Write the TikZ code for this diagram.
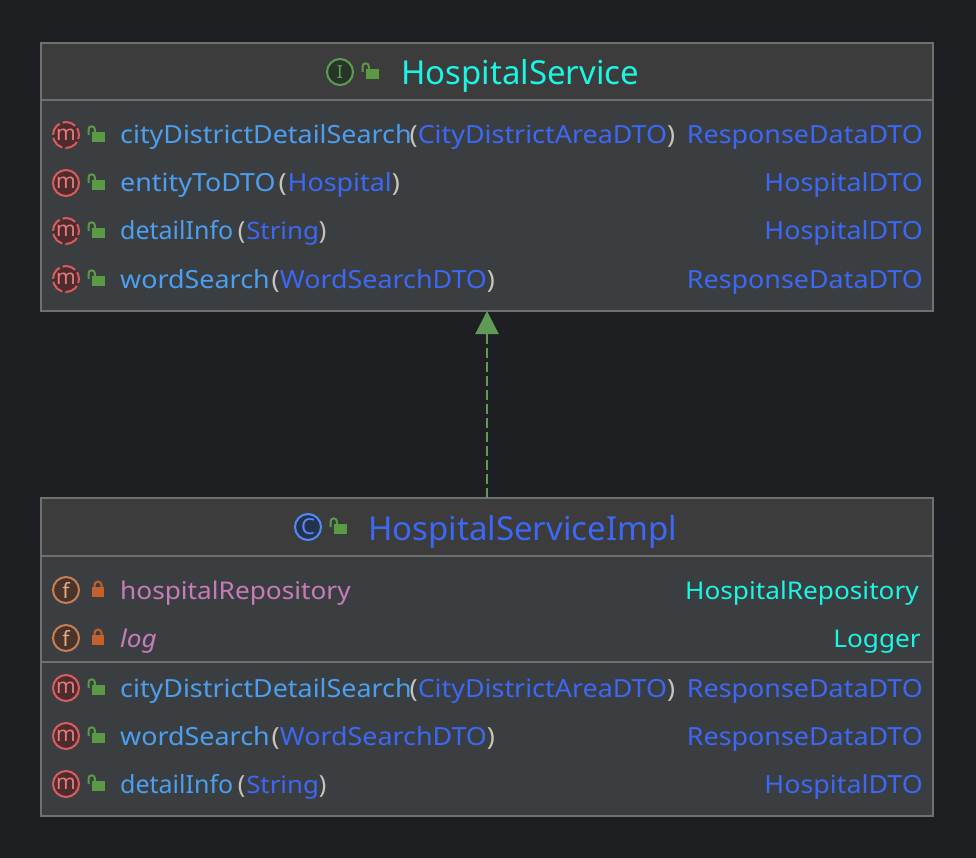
\documentclass[tikz,border=0pt]{standalone}
\usepackage{fontspec}
\setmainfont{Noto Sans}
\newfontfamily\rowfont[FakeStretch=1.075]{Noto Sans}
\usetikzlibrary{arrows.meta}
\definecolor{pagebg}{HTML}{1E1F22}
\definecolor{headbg}{HTML}{3C3C3C}
\definecolor{bodybg}{HTML}{3B3E41}
\definecolor{edgegray}{HTML}{6F7072}
\definecolor{methcol}{HTML}{4C9FF0}
\definecolor{typecol}{HTML}{3B68F5}
\definecolor{ifacecol}{HTML}{1AF5E4}
\definecolor{fieldcol}{HTML}{C67CB9}
\definecolor{parencol}{HTML}{C8C4BC}
\definecolor{okgreen}{HTML}{5A9A45}
\definecolor{lockred}{HTML}{C2612B}
\definecolor{arrgreen}{HTML}{5F9B55}
\definecolor{methred}{HTML}{DB5C5C}
\definecolor{methfill}{HTML}{4F2B2E}
\definecolor{fldline}{HTML}{C77D55}
\definecolor{fldfill}{HTML}{48342B}
\definecolor{fldtext}{HTML}{E1AA82}
\definecolor{ifacefill}{HTML}{253627}
\definecolor{clsline}{HTML}{548AF7}
\definecolor{clsfill}{HTML}{25324D}
\newcommand{\pa}[1]{{\bfseries\color{parencol}#1}}
\newcommand{\ty}[1]{{\color{typecol}#1}}
\newcommand{\detailsig}{{\rmfamily detailInfo\kern4.5pt\pa{(}\kern1pt{\rowfont\fontsize{24}{28}\selectfont\ty{String}}\pa{)}}}
\begin{document}
\begin{tikzpicture}[x=1pt,y=-1pt,
    classbox/.style={draw=edgegray,line width=1.5pt,fill=bodybg,rectangle,inner sep=0pt,outer sep=0pt,
      minimum width=892pt,anchor=north west},
    sepline/.style={edgegray,line width=2pt},
    title/.style={anchor=base west,inner sep=0pt,font=\fontsize{33}{36}\selectfont},
    member/.style={anchor=base west,inner sep=0pt,font=\rowfont\fontsize{25}{28}\selectfont,methcol},
    rettype/.style={anchor=base east,inner sep=0pt,font=\rowfont\fontsize{25}{28}\selectfont,typecol},
    fldrow/.style={font=\rowfont\fontsize{24.4}{28}\selectfont},
    badge/.style={draw,circle,line width=2pt,minimum size=26pt,inner sep=0pt,font=\fontsize{21}{22}\selectfont},
    mbadge/.style={badge,draw=methred,fill=methfill,text=methred!80!white},
    abstr/.style={mbadge,dash pattern=on 13.5pt off 3.2pt,dash phase=6.5pt},
    fbadge/.style={badge,draw=fldline,fill=fldfill,text=fldtext},
    openlock/.pic={\fill[okgreen] (-4,-3) rectangle (8.5,7);
      \draw[okgreen,line width=2pt] (-7.5,0) -- (-7.5,-5.5) arc[start angle=180,end angle=0,radius=3.2pt] -- (-1.1,-3);},
    shutlock/.pic={\fill[lockred] (-6,-3) rectangle (6,7);
      \draw[lockred,line width=2pt] (-3.5,-3) -- (-3.5,-5) arc[start angle=180,end angle=0,radius=3.5pt] -- (3.5,-3);}]
    \fill[pagebg] (0,0) rectangle (976,858);
    \useasboundingbox (0,0) rectangle (976,858);

    % interface box
    \node[classbox,minimum height=268pt] (svc) at (41,43) {};
    \fill[headbg] (41.8,43.8) rectangle (932.2,100);
    \draw[sepline] (41,100.5) -- (933,100.5);
    \node[badge,draw=arrgreen,fill=ifacefill,text=arrgreen,font=\fontsize{18}{18}\selectfont] (svcicon) at (340,72) {I};
    \pic at (370,72) {openlock};
    \node[title,ifacecol] (svcname) at (401,85) {HospitalService};

    \node[abstr] (s1icon) at (66,135) {m};
    \pic at (96,135) {openlock};
    \node[member] (s1) at (120,144) {cityDistrictDetailSearch\kern-2pt\pa{(}\ty{CityDistrictAreaDTO}\pa{)}};
    \node[rettype] (s1ret) at (923,144) {ResponseDataDTO};
    \node[mbadge] (s2icon) at (66,183) {m};
    \pic at (96,183) {openlock};
    \node[member] (s2) at (120,192) {entityToDTO\kern3pt\pa{(}\kern1pt\ty{Hospital}\pa{)}};
    \node[rettype] (s2ret) at (923,192) {HospitalDTO};
    \node[abstr] (s3icon) at (66,231) {m};
    \pic at (96,231) {openlock};
    \node[member] (s3) at (120,240) {\detailsig};
    \node[rettype] (s3ret) at (923,240) {HospitalDTO};
    \node[abstr] (s4icon) at (66,279) {m};
    \pic at (96,279) {openlock};
    \node[member] (s4) at (120,288) {wordSearch\kern2pt\pa{(}\ty{WordSearchDTO}\pa{)}};
    \node[rettype] (s4ret) at (923,288) {ResponseDataDTO};

    % implementing class
    \node[classbox,minimum height=318pt] (impl) at (41,498) {};
    \fill[headbg] (41.8,498.8) rectangle (932.2,555);
    \draw[sepline] (41,555.5) -- (933,555.5);
    \draw[sepline] (41,662) -- (933,662);
    \node[badge,draw=clsline,fill=clsfill,text=clsline,font=\fontsize{22}{22}\selectfont] (implicon) at (308,527) {C};
    \pic at (338,527) {openlock};
    \node[title,typecol] (implname) at (368,540) {HospitalServiceImpl};

    \node[fbadge] (f1icon) at (66,590) {f};
    \pic at (98,590) {shutlock};
    \node[member,fieldcol,fldrow] (f1) at (120,599) {hospitalRepository};
    \node[rettype,ifacecol,fldrow] (f1ret) at (919,599) {HospitalRepository};
    \node[fbadge] (f2icon) at (66,638) {f};
    \pic at (98,638) {shutlock};
    \node[member,fieldcol,font=\rowfont\fontsize{24.4}{28}\selectfont\itshape] (f2) at (120,647) {log};
    \node[rettype,ifacecol,fldrow] (f2ret) at (921,647) {Logger};

    \node[mbadge] (i1icon) at (66,688) {m};
    \pic at (96,688) {openlock};
    \node[member] (i1) at (120,697) {cityDistrictDetailSearch\kern-2pt\pa{(}\ty{CityDistrictAreaDTO}\pa{)}};
    \node[rettype] (i1ret) at (923,697) {ResponseDataDTO};
    \node[mbadge] (i2icon) at (66,736) {m};
    \pic at (96,736) {openlock};
    \node[member] (i2) at (120,745) {wordSearch\kern2pt\pa{(}\ty{WordSearchDTO}\pa{)}};
    \node[rettype] (i2ret) at (923,745) {ResponseDataDTO};
    \node[mbadge] (i3icon) at (66,784) {m};
    \pic at (96,784) {openlock};
    \node[member] (i3) at (120,793) {\detailsig};
    \node[rettype] (i3ret) at (923,793) {HospitalDTO};

    \draw[arrgreen,line width=2.2pt,dash pattern=on 10pt off 4pt,-{Triangle[length=23pt,width=23pt]}]
      (impl.north -| 487,498) -- (svc.south -| 487,311);
\end{tikzpicture}
\end{document}
